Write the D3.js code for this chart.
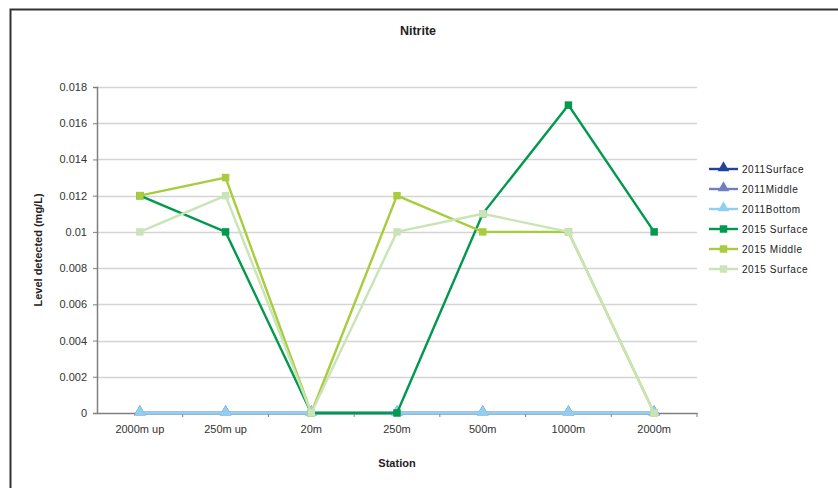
<!DOCTYPE html>
<html>
<head>
<meta charset="utf-8">
<script src="https://cdn.jsdelivr.net/npm/d3@7"></script>
<style>
  html, body { margin: 0; padding: 0; background: #fff; }
  svg { display: block; font-family: "Liberation Sans", Arial, sans-serif; }
</style>
</head>
<body>
<svg id="chart" width="838" height="488"></svg>
<script>
// Stations along the river
const stations = ["2000m up", "250m up", "20m", "250m", "500m", "1000m", "2000m"];

// Nitrite readings (mg/L) per survey
const s2011Surface = [0, 0, 0, 0, 0, 0, 0];
const s2011Middle  = [0, 0, 0, 0, 0, 0, 0];
const s2011Bottom  = [0, 0, 0, 0, 0, 0, 0];
const s2015Surface = [0.012, 0.010, 0, 0, 0.011, 0.017, 0.010];
const s2015Middle  = [0.012, 0.013, 0, 0.012, 0.010, 0.010, 0];
const s2015Surface2 = [0.010, 0.012, 0, 0.010, 0.011, 0.010, 0];

const seriesNames = ["2011Surface", "2011Middle", "2011Bottom", "2015 Surface", "2015 Middle", "2015 Surface"];
const yTicks = [0, 0.002, 0.004, 0.006, 0.008, 0.01, 0.012, 0.014, 0.016, 0.018];
const yTickLabels = ["0", "0.002", "0.004", "0.006", "0.008", "0.01", "0.012", "0.014", "0.016", "0.018"];

const series = [
  { name: seriesNames[0], values: s2011Surface, color: "#21439b", marker: "triangle" },
  { name: seriesNames[1], values: s2011Middle,  color: "#6f7fc1", marker: "triangle" },
  { name: seriesNames[2], values: s2011Bottom,  color: "#8fd0f0", marker: "triangle" },
  { name: seriesNames[3], values: s2015Surface, color: "#00994d", marker: "square" },
  { name: seriesNames[4], values: s2015Middle,  color: "#a8cd3c", marker: "square" },
  { name: seriesNames[5], values: s2015Surface2, color: "#c9e4b6", marker: "square" }
];

const svg = d3.select("#chart");

// outer chart frame
svg.append("path")
  .attr("d", "M10.5,500 L10.5,9.5 L850,9.5")
  .attr("fill", "none").attr("stroke", "#333").attr("stroke-width", 2);

const x = d3.scaleBand().domain(stations).range([97, 697]).padding(0);
const y = d3.scaleLinear().domain([0, 0.018]).range([413, 87]);
const cx = d => x(d) + x.bandwidth() / 2;

// gridlines
svg.append("g").selectAll("line")
  .data(yTicks.slice(1))
  .join("line")
  .attr("x1", 97).attr("x2", 697)
  .attr("y1", d => Math.round(y(d)) + 0.5).attr("y2", d => Math.round(y(d)) + 0.5)
  .attr("stroke", "#d4d4d4").attr("stroke-width", 1.3);

// y axis
const yAxis = d3.axisLeft(y)
  .tickValues(yTicks)
  .tickFormat((d, i) => yTickLabels[i])
  .tickSize(4)
  .tickPadding(6);
const gy = svg.append("g").attr("transform", "translate(97,0)").call(yAxis);
gy.select(".domain").attr("stroke", "#7f7f7f").attr("stroke-width", 1.5);
gy.selectAll(".tick line").attr("stroke", "#7f7f7f");
gy.selectAll(".tick text").attr("fill", "#333").style("font-size", "11px");

// x axis
const xAxis = d3.axisBottom(x).tickSize(0).tickPadding(12);
const gx = svg.append("g").attr("transform", "translate(0,413)").call(xAxis);
gx.select(".domain").attr("stroke", "#7f7f7f").attr("stroke-width", 1.5);
gx.selectAll(".tick text").attr("fill", "#333").style("font-size", "11px");
// tick marks between stations
gx.append("g").selectAll("line")
  .data(stations)
  .join("line")
  .attr("x1", (d, i) => x(stations[0]) + x.bandwidth() * (i + 1))
  .attr("x2", (d, i) => x(stations[0]) + x.bandwidth() * (i + 1))
  .attr("y1", 0).attr("y2", 4)
  .attr("stroke", "#7f7f7f");

// lines
const line = d3.line().x((d, i) => cx(stations[i])).y(d => y(d));
const tri = d3.symbol().type(d3.symbolTriangle).size(58);
const sq = d3.symbol().type(d3.symbolSquare).size(56);

series.forEach(s => {
  svg.append("path")
    .datum(s.values)
    .attr("fill", "none")
    .attr("stroke", s.color)
    .attr("stroke-width", 2.4)
    .attr("d", line);
  svg.append("g").selectAll("path")
    .data(s.values)
    .join("path")
    .attr("transform", (d, i) => `translate(${cx(stations[i])},${y(d) + (s.marker === "triangle" ? -1 : 0)})`)
    .attr("d", s.marker === "triangle" ? tri : sq)
    .attr("fill", s.color);
});

// title and axis titles
svg.append("text").attr("x", 418).attr("y", 35).attr("text-anchor", "middle")
  .style("font-size", "12.5px").style("font-weight", "bold").attr("fill", "#222").text("Nitrite");
svg.append("text").attr("x", 397).attr("y", 467).attr("text-anchor", "middle")
  .style("font-size", "11px").style("font-weight", "bold").attr("fill", "#222").text("Station");
svg.append("text").attr("transform", "translate(42,250) rotate(-90)").attr("text-anchor", "middle")
  .style("font-size", "11px").style("font-weight", "bold").attr("fill", "#222").text("Level detected (mg/L)");

// legend
const lg = svg.append("g").attr("transform", "translate(709,169)");
series.forEach((s, i) => {
  const row = lg.append("g").attr("transform", `translate(0,${i * 20})`);
  row.append("line").attr("x1", 0).attr("x2", 29).attr("y1", 0).attr("y2", 0)
    .attr("stroke", s.color).attr("stroke-width", 2.4);
  row.append("path").attr("transform", `translate(14.5,${s.marker === "triangle" ? -1 : 0})`)
    .attr("d", s.marker === "triangle" ? tri : sq).attr("fill", s.color);
  row.append("text").attr("x", 33).attr("y", 4)
    .style("font-size", "10px").style("letter-spacing", "0.55px").attr("fill", "#222").text(s.name);
});
</script>
</body>
</html>
